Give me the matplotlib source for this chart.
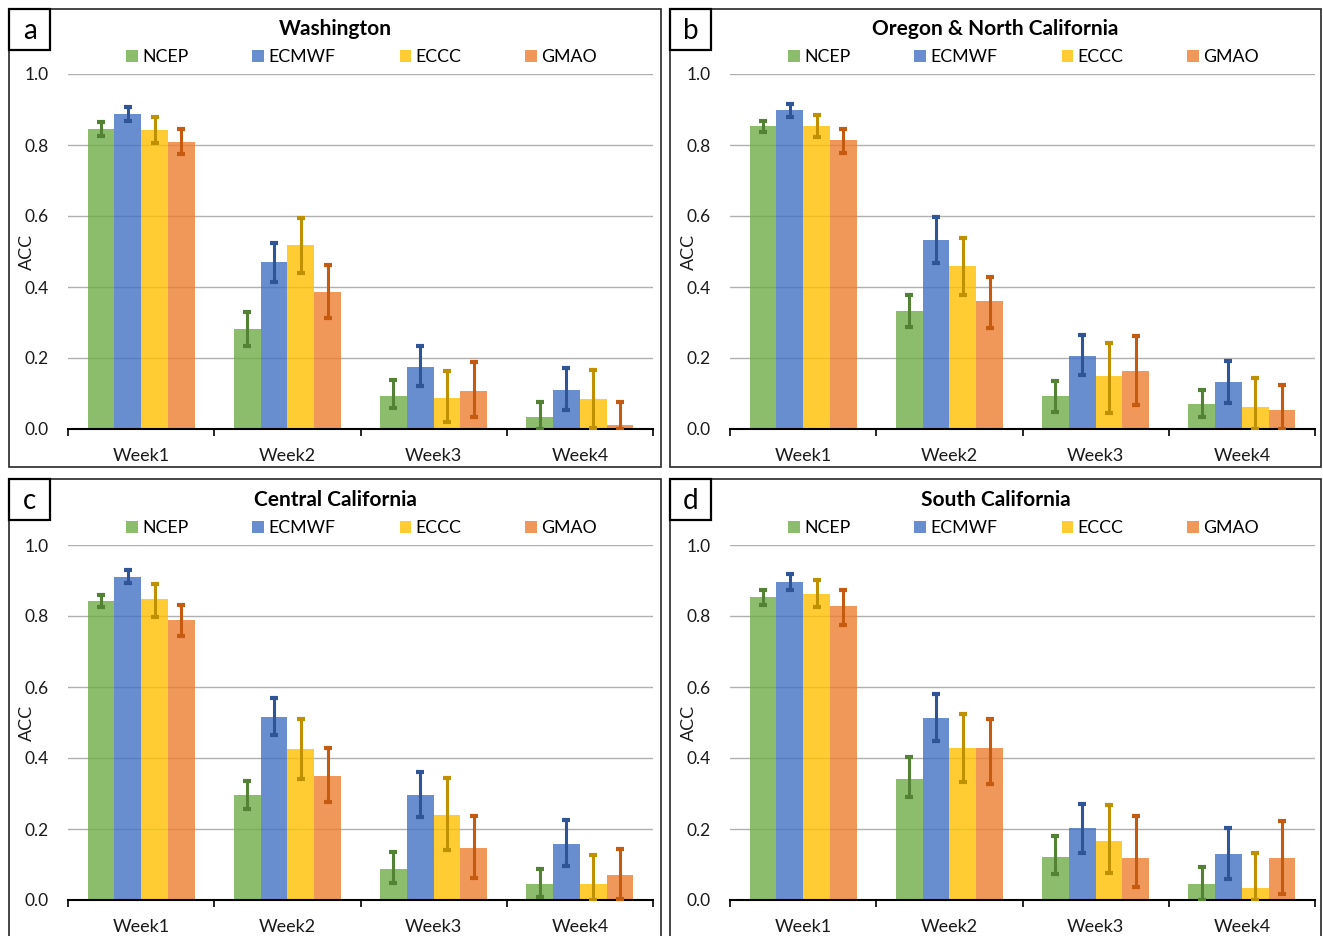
import matplotlib
matplotlib.use("Agg")
import matplotlib.pyplot as plt
from matplotlib.patches import Rectangle
import numpy as np

plt.rcParams['font.family'] = ['Lato', 'DejaVu Sans']

weeks = ["Week1", "Week2", "Week3", "Week4"]
models = ["NCEP", "ECMWF", "ECCC", "GMAO"]
bar_colors = ["#70AD47", "#4472C4", "#FFC000", "#ED7D31"]
err_colors = ["#548235", "#2F5597", "#BF9000", "#C55A11"]

panel_letters = ["a", "b", "c", "d"]
panel_titles = ["Washington", "Oregon & North California", "Central California", "South California"]

# values[model][week]
wa_val = [[0.844, 0.283, 0.094, 0.033],
          [0.887, 0.470, 0.176, 0.111],
          [0.843, 0.518, 0.088, 0.084],
          [0.809, 0.387, 0.108, 0.012]]
wa_lo = [[0.824, 0.235, 0.059, 0.000],
         [0.868, 0.413, 0.120, 0.054],
         [0.805, 0.439, 0.019, 0.003],
         [0.775, 0.314, 0.035, 0.000]]
wa_hi = [[0.864, 0.329, 0.139, 0.075],
         [0.908, 0.523, 0.235, 0.171],
         [0.878, 0.594, 0.164, 0.166],
         [0.844, 0.462, 0.190, 0.075]]

or_val = [[0.854, 0.333, 0.092, 0.070],
          [0.899, 0.533, 0.207, 0.131],
          [0.854, 0.460, 0.149, 0.063],
          [0.814, 0.360, 0.162, 0.054]]
or_lo = [[0.838, 0.286, 0.049, 0.035],
         [0.879, 0.467, 0.153, 0.073],
         [0.823, 0.378, 0.045, 0.000],
         [0.777, 0.285, 0.068, 0.000]]
or_hi = [[0.869, 0.378, 0.136, 0.111],
         [0.915, 0.596, 0.265, 0.192],
         [0.885, 0.538, 0.242, 0.144],
         [0.846, 0.427, 0.263, 0.124]]

cc_val = [[0.842, 0.295, 0.087, 0.045],
          [0.911, 0.516, 0.295, 0.159],
          [0.849, 0.425, 0.239, 0.045],
          [0.789, 0.350, 0.147, 0.070]]
cc_lo = [[0.824, 0.255, 0.049, 0.009],
         [0.892, 0.464, 0.233, 0.096],
         [0.797, 0.342, 0.141, 0.000],
         [0.744, 0.275, 0.063, 0.002]]
cc_hi = [[0.860, 0.336, 0.134, 0.087],
         [0.929, 0.568, 0.360, 0.225],
         [0.889, 0.510, 0.345, 0.127],
         [0.832, 0.429, 0.237, 0.143]]

sc_val = [[0.853, 0.340, 0.121, 0.044],
          [0.896, 0.513, 0.202, 0.129],
          [0.863, 0.429, 0.167, 0.035],
          [0.829, 0.429, 0.117, 0.119]]
sc_lo = [[0.832, 0.289, 0.072, 0.000],
         [0.874, 0.447, 0.133, 0.058],
         [0.826, 0.333, 0.077, 0.000],
         [0.774, 0.326, 0.038, 0.016]]
sc_hi = [[0.874, 0.402, 0.181, 0.094],
         [0.917, 0.579, 0.270, 0.202],
         [0.901, 0.523, 0.267, 0.131],
         [0.874, 0.510, 0.236, 0.222]]

panel_vals = [wa_val, or_val, cc_val, sc_val]
panel_los = [wa_lo, or_lo, cc_lo, sc_lo]
panel_his = [wa_hi, or_hi, cc_hi, sc_hi]

W, H = 1323, 936
fig = plt.figure(figsize=(W / 100, H / 100), dpi=100)

def fx(px):
    return px / W

def fy(py):
    return 1 - py / H

# axes layout in pixels: (left, top) of plot area
ax_left = [68, 730, 68, 730]
ax_top = [74, 74, 545, 545]
ax_w, ax_h = 585, 355
frame_boxes = [(9, 9, 661, 467), (670, 9, 1321, 467), (9, 479, 661, 960), (670, 479, 1321, 960)]

bw = 0.183
x = np.arange(len(weeks))

for p in range(4):
    # panel frame
    x0, y0, x1, y1 = frame_boxes[p]
    fig.patches.append(Rectangle((fx(x0), fy(y1)), fx(x1 - x0), (y1 - y0) / H,
                                 transform=fig.transFigure, fill=False,
                                 edgecolor="#262626", linewidth=1.2, zorder=0))
    # letter box
    fig.patches.append(Rectangle((fx(x0), fy(y0 + 41)), fx(41), 41 / H,
                                 transform=fig.transFigure, fill=False,
                                 edgecolor="#000000", linewidth=1.6, zorder=5))
    fig.text(fx(x0 + 20.5), fy(y0 + 22), panel_letters[p], ha="center", va="center",
             fontsize=20, color="black")

    ax = fig.add_axes([fx(ax_left[p]), fy(ax_top[p] + ax_h), ax_w / W, ax_h / H])
    vals, los, his = panel_vals[p], panel_los[p], panel_his[p]
    for m in range(4):
        xpos = x + (m - 1.5) * bw
        v = np.array(vals[m])
        lo = np.array(los[m])
        hi = np.array(his[m])
        ax.bar(xpos, v, width=bw, color=bar_colors[m], alpha=0.8, label=models[m], zorder=2)
        ax.errorbar(xpos, v, yerr=[v - lo, hi - v], fmt="none", ecolor=err_colors[m],
                    elinewidth=2.2, capsize=2.6, capthick=3, zorder=3)
    ax.set_xlim(-0.5, 3.5)
    ax.set_ylim(0, 1.0)
    ax.set_yticks([0.0, 0.2, 0.4, 0.6, 0.8, 1.0])
    ax.set_yticklabels(["0.0", "0.2", "0.4", "0.6", "0.8", "1.0"])
    ax.set_xticks(x)
    ax.set_xticklabels(weeks)
    ax.set_xticks(np.arange(-0.5, 4.0, 1.0), minor=True)
    ax.tick_params(axis="x", which="major", length=0, pad=14, labelsize=13, colors="#1a1a1a")
    ax.tick_params(axis="x", which="minor", length=5, width=1.2, color="black", direction="out")
    ax.tick_params(axis="y", length=0, pad=14, labelsize=12.5, colors="#1a1a1a")
    ax.grid(axis="y", color="#b0b0b0", linewidth=1.0, zorder=0)
    ax.set_axisbelow(True)
    for s in ["top", "right", "left"]:
        ax.spines[s].set_visible(False)
    ax.spines["bottom"].set_color("black")
    ax.spines["bottom"].set_linewidth(1.5)
    ax.set_ylabel("ACC", fontsize=13, color="#1a1a1a")
    ax.yaxis.set_label_coords(-0.057, 0.5)
    title_cx = ((x0 + x1) / 2 - ax_left[p]) / ax_w
    ax.text(title_cx, 1.127, panel_titles[p], transform=ax.transAxes, ha="center", va="center",
            fontsize=15, fontweight="bold", color="black")
    ax.legend(loc="center", bbox_to_anchor=(0.502, 1.047), ncol=4, frameon=False,
              fontsize=12.8, handlelength=0.65, handleheight=0.65, handletextpad=0.25,
              columnspacing=3.6, borderaxespad=0)

fig.savefig("out.png", dpi=100)
